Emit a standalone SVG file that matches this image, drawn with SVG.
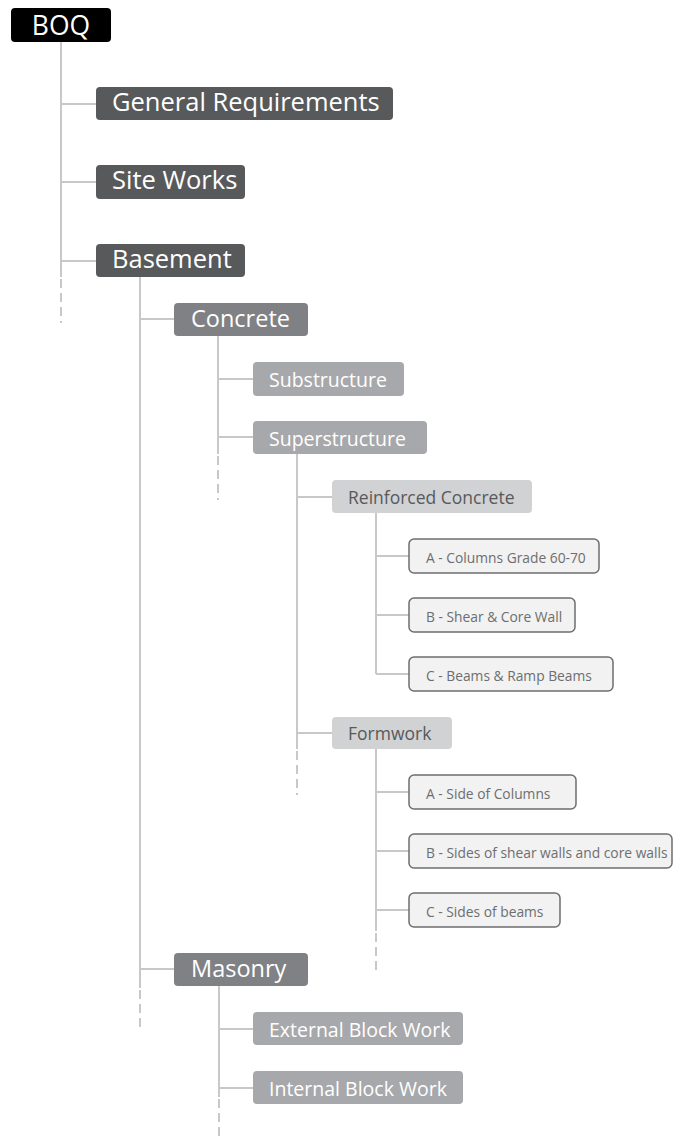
<svg xmlns="http://www.w3.org/2000/svg" width="673" height="1141" viewBox="0 0 673 1141">
<style>
text{font-family:"Open Sans","Noto Sans","DejaVu Sans",sans-serif;}
.ln{stroke:#c8c8c8;stroke-width:2;fill:none;}
.ds{stroke:#c8c8c8;stroke-width:2;fill:none;stroke-dasharray:9 5;}
.root rect{fill:#000;}
.root text{fill:#fff;font-size:26.5px;text-anchor:middle;}
.l1 rect{fill:#58595b;}
.l1 text{fill:#fff;font-size:25.5px;}
.l2 rect{fill:#808184;}
.l2 text{fill:#fff;font-size:23.5px;}
.l3 rect{fill:#a7a8ab;}
.l3 text{fill:#fff;font-size:19.5px;}
.l4 rect{fill:#d1d2d4;}
.l4 text{fill:#58595b;font-size:17.5px;}
.l5 rect{fill:#f1f2f1;stroke:#6d6e70;stroke-width:1.5;}
.l5 text{fill:#6d6e70;font-size:13.8px;}
</style>
<g id="connectors">
<path class="ln" d="M61 42V277M61 104H96M61 182H96M61 261H96"/>
<path class="ds" d="M61 279V323"/>
<path class="ln" d="M140 277V988M140 319H174M140 969H174"/>
<path class="ds" d="M140 990V1030"/>
<path class="ln" d="M218 336V454M218 379H253M218 437H253"/>
<path class="ds" d="M218 456V500"/>
<path class="ln" d="M297 454V749M297 497H332M297 733H332"/>
<path class="ds" d="M297 751V795"/>
<path class="ln" d="M376 513V674M376 556H409M376 615H409M376 674H409"/>
<path class="ln" d="M376 749V931M376 792H409M376 851H409M376 910H409"/>
<path class="ds" d="M376 933V972"/>
<path class="ln" d="M219 986V1097M219 1029H253M219 1088H253"/>
<path class="ds" d="M219 1099V1140"/>
</g>
<g id="boq" class="root"><rect x="11" y="8" width="100" height="34" rx="4"/><text x="61" y="35">BOQ</text></g>
<g id="general-requirements" class="l1"><rect x="96" y="87" width="297" height="33" rx="4"/><text x="112" y="111">General Requirements</text></g>
<g id="site-works" class="l1"><rect x="96" y="165" width="149" height="34" rx="4"/><text x="112" y="189">Site Works</text></g>
<g id="basement" class="l1"><rect x="96" y="244" width="149" height="33" rx="4"/><text x="112" y="268">Basement</text></g>
<g id="concrete" class="l2"><rect x="174" y="303" width="134" height="33" rx="4"/><text x="191" y="327">Concrete</text></g>
<g id="substructure" class="l3"><rect x="253" y="362" width="151" height="34" rx="4"/><text x="269" y="387">Substructure</text></g>
<g id="superstructure" class="l3"><rect x="253" y="421" width="174" height="33" rx="4"/><text x="269" y="446">Superstructure</text></g>
<g id="reinforced-concrete" class="l4"><rect x="332" y="480" width="200" height="33" rx="4"/><text x="348" y="504">Reinforced Concrete</text></g>
<g id="rc-a" class="l5"><rect x="409" y="539" width="190" height="34" rx="5"/><text x="426" y="563">A - Columns Grade 60-70</text></g>
<g id="rc-b" class="l5"><rect x="409" y="598" width="166" height="34" rx="5"/><text x="426" y="622">B - Shear &amp; Core Wall</text></g>
<g id="rc-c" class="l5"><rect x="409" y="657" width="204" height="34" rx="5"/><text x="426" y="681">C - Beams &amp; Ramp Beams</text></g>
<g id="formwork" class="l4"><rect x="332" y="717" width="120" height="32" rx="4"/><text x="348" y="740">Formwork</text></g>
<g id="fw-a" class="l5"><rect x="409" y="775" width="167" height="34" rx="5"/><text x="426" y="799">A - Side of Columns</text></g>
<g id="fw-b" class="l5"><rect x="409" y="834" width="263" height="34" rx="5"/><text x="426" y="858">B - Sides of shear walls and core walls</text></g>
<g id="fw-c" class="l5"><rect x="409" y="893" width="151" height="34" rx="5"/><text x="426" y="917">C - Sides of beams</text></g>
<g id="masonry" class="l2"><rect x="174" y="953" width="134" height="33" rx="4"/><text x="191" y="977">Masonry</text></g>
<g id="external-block-work" class="l3"><rect x="253" y="1012" width="210" height="33" rx="4"/><text x="269" y="1037">External Block Work</text></g>
<g id="internal-block-work" class="l3"><rect x="253" y="1071" width="210" height="33" rx="4"/><text x="269" y="1096">Internal Block Work</text></g>
</svg>
